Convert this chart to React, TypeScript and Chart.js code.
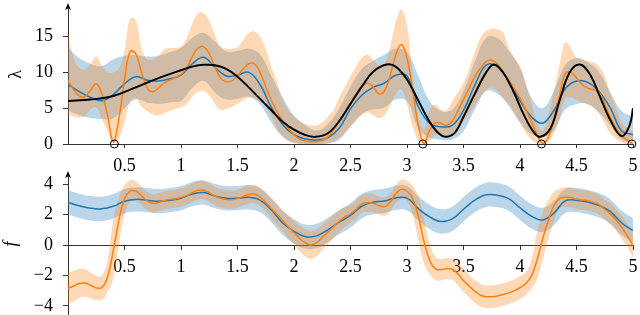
import React, { useEffect, useRef } from "react";
import { Chart, registerables } from "chart.js";
Chart.register(...registerables);

// ---------- data ----------
const xFine = [0,0.05,0.1,0.15,0.2,0.25,0.3,0.35,0.4,0.45,0.5,0.55,0.6,0.65,0.7,0.75,0.8,0.85,0.9,0.95,
  1,1.05,1.1,1.15,1.2,1.25,1.3,1.35,1.4,1.45,1.5,1.55,1.6,1.65,1.7,1.75,1.8,1.85,1.9,1.95,
  2,2.05,2.1,2.15,2.2,2.25,2.3,2.35,2.4,2.45,2.5,2.55,2.6,2.65,2.7,2.75,2.8,2.85,2.9,2.95,
  3,3.05,3.1,3.15,3.2,3.25,3.3,3.35,3.4,3.45,3.5,3.55,3.6,3.65,3.7,3.75,3.8,3.85,3.9,3.95,
  4,4.05,4.1,4.15,4.2,4.25,4.3,4.35,4.4,4.45,4.5,4.55,4.6,4.65,4.7,4.75,4.8,4.85,4.9,4.95,5];
const xCoarse = [0,0.1,0.2,0.3,0.4,0.5,0.6,0.7,0.8,0.9,1,1.1,1.2,1.3,1.4,1.5,1.6,1.7,1.8,1.9,
  2,2.1,2.2,2.3,2.4,2.5,2.6,2.7,2.8,2.9,3,3.1,3.2,3.3,3.4,3.5,3.6,3.7,3.8,3.9,
  4,4.1,4.2,4.3,4.4,4.5,4.6,4.7,4.8,4.9,5];

// top panel (lambda)
const lamOrange = [8.8,7.6,6.7,6.6,7.5,8.4,7.0,4.0,0.3,3.5,
  9.0,12.9,12.6,10.0,7.8,7.3,7.8,8.5,8.9,9.3,
  9.7,10.6,12.2,13.4,13.6,12.6,10.8,9.2,8.7,8.8,
  9.5,10.5,11.2,11.2,10.0,8.0,6.1,4.5,3.2,2.2,
  1.3,0.7,0.4,0.3,0.35,0.5,1.0,2.0,3.2,4.4,
  5.8,7.0,8.1,8.5,8.0,7.0,7.4,9.5,12.4,13.9,
  12.0,7.6,2.6,0.1,1.9,3.0,2.9,2.6,3.2,4.6,
  6.2,7.8,9.4,10.6,11.5,11.7,11.2,10.0,8.9,7.7,
  6.4,4.8,3.2,1.4,0.1,0.9,3.5,6.8,9.8,10.0,
  9.2,8.3,7.8,7.6,7.2,5.5,3.7,2.2,1.2,0.5,0.0];
const lamOrangeUpper = [15.5,12.0,10.6,10.4,11.2,12.2,11.0,10.0,10.0,10.5,
  13.0,17.5,17.3,13.5,11.8,11.8,12.3,13.2,13.4,13.4,
  13.6,14.8,16.8,18.2,18.3,17.2,15.2,13.6,13.3,13.3,
  13.5,14.5,15.5,15.7,15.0,13.2,10.8,8.6,6.3,4.7,
  3.8,3.2,2.8,2.6,2.6,3.0,3.8,4.8,6.5,8.0,
  9.5,10.8,12.0,12.5,11.8,11.0,11.3,13.5,17.0,18.8,
  16.5,9.5,4.0,2.0,4.7,5.5,4.8,4.7,6.0,7.2,
  8.5,10.5,12.8,14.8,15.8,16.1,16.0,15.6,13.5,12.0,
  10.8,8.5,5.8,3.0,1.8,4.0,7.4,11.0,14.2,13.4,
  12.0,11.8,11.6,11.4,10.8,9.5,7.0,5.0,3.0,2.2,1.8];
const lamOrangeLower = [4.2,3.8,3.7,3.9,4.8,5.1,3.5,1.8,0.1,0.8,
  3.0,6.0,6.4,5.2,4.6,4.1,4.0,4.3,4.6,4.9,
  5.1,5.6,6.6,7.3,7.4,6.8,5.6,4.8,4.9,5.2,
  5.6,6.1,6.5,6.4,5.9,5.2,3.8,2.2,1.1,0.4,
  0.1,0,0,0,0,0,0.1,0.4,0.9,1.5,
  2.4,3.2,4.0,4.4,4.0,3.6,4.0,5.3,7.0,7.6,
  5.5,2.5,0.4,0,0.5,1.2,1.3,1.1,1.5,2.2,
  3.2,4.2,5.4,6.5,7.5,7.9,7.4,6.5,5.6,4.4,
  3.0,1.6,0.6,0.1,0,0.3,1.5,3.5,6.3,6.5,
  6.2,5.8,5.5,5.1,4.3,2.8,1.5,0.7,0.2,0,0];
const lamBlue = [8.3,7.3,6.5,6.05,6.9,8.4,9.4,8.9,8.8,9.1,
  9.6,11.2,12.1,10.7,9.5,9.6,10.0,8.3,5.1,2.7,
  1.3,0.7,0.55,0.9,2.2,4.9,6.8,7.9,8.5,9.6,
  9.5,5.2,2.9,2.4,2.6,4.7,8.2,11.0,10.8,8.8,
  6.05,3.8,2.9,4.7,7.7,8.8,8.6,7.3,5.0,1.8,1.3];
const lamBlueUpper = [13.4,12.0,11.2,10.9,11.8,12.3,12.4,12.2,12.3,12.8,
  13.4,14.8,15.5,14.3,12.9,13.0,13.3,12.5,9.5,6.5,
  4.0,2.6,1.9,2.8,5.0,8.0,10.5,11.6,12.5,13.3,
  12.8,9.5,6.0,4.6,4.8,7.4,11.5,14.8,14.8,13.0,
  10.6,6.5,5.0,7.4,11.0,12.0,11.4,10.0,7.2,4.6,3.8];
const lamBlueLower = [4.7,4.0,3.6,3.5,3.6,5.0,6.2,5.8,5.6,5.8,
  6.0,7.8,8.8,7.2,6.2,6.3,6.6,5.5,3.0,1.0,
  0.2,0,0,0.1,0.6,2.5,4.2,4.8,5.1,6.2,
  6.0,2.2,0.9,0.6,0.6,1.8,4.8,7.4,7.0,5.3,
  3.0,1.4,1.0,1.9,4.8,5.6,5.6,4.4,2.6,0.6,0.3];
const lamTrueX = [0,0.2,0.4,0.6,0.8,1.0,1.1,1.2,1.3,1.4,1.5,1.6,1.7,1.8,1.9,2.0,2.1,2.19,2.3,2.4,
  2.5,2.6,2.7,2.82,2.9,3.0,3.1,3.2,3.28,3.35,3.43,3.5,3.6,3.7,3.77,3.85,3.94,4.03,4.12,4.18,
  4.27,4.35,4.44,4.53,4.62,4.71,4.8,4.9,4.97,5.0];
const lamTrue = [6.0,6.2,6.7,7.9,9.2,10.3,10.8,11.05,11.0,10.5,9.4,7.9,6.3,4.7,3.1,2.0,1.25,1.0,1.5,3.2,
  5.6,8.0,10.1,11.1,10.8,9.0,6.05,3.1,1.5,1.0,1.7,3.8,7.0,10.0,11.1,10.0,7.4,4.2,1.7,1.0,
  2.2,6.05,10.0,11.1,9.7,6.5,3.3,1.1,2.6,5.0];
const zeroX = [0.41, 3.14, 4.19, 4.99];
const zeroY = [0, 0, 0, 0];

// bottom panel (f)
const fOrange = [-2.85,-2.7,-2.53,-2.5,-2.65,-2.82,-2.8,-2.1,-0.4,1.6,
  3.05,3.55,3.55,3.25,2.9,2.74,2.8,2.93,3.0,3.05,
  3.12,3.25,3.45,3.6,3.6,3.45,3.22,3.08,3.0,2.98,
  3.05,3.2,3.33,3.35,3.15,2.8,2.4,2.0,1.6,1.2,
  0.8,0.44,0.15,0.0,0.15,0.5,0.85,1.2,1.55,1.85,
  2.05,2.35,2.7,2.78,2.75,2.6,2.52,2.8,3.35,3.66,
  3.55,3.05,1.9,0.25,-1.0,-1.55,-1.62,-1.55,-1.6,-1.9,
  -2.35,-2.7,-3.05,-3.3,-3.4,-3.4,-3.35,-3.25,-3.15,-3.0,
  -2.8,-2.55,-2.05,-1.0,0.4,1.6,2.6,3.05,3.15,3.12,
  3.02,2.96,2.92,2.8,2.65,2.35,2.05,1.65,1.15,0.6,-0.05];
const fOrangeUpper = [-1.8,-1.7,-1.58,-1.6,-1.8,-2.02,-2.0,-1.0,1.6,3.1,
  3.95,4.25,4.2,3.85,3.5,3.34,3.4,3.53,3.6,3.65,
  3.72,3.85,4.05,4.2,4.2,4.05,3.82,3.68,3.6,3.58,
  3.65,3.8,3.93,3.95,3.75,3.4,3.05,2.7,2.3,1.95,
  1.6,1.29,1.05,0.9,1.05,1.35,1.65,1.95,2.25,2.5,
  2.65,2.95,3.3,3.38,3.35,3.2,3.12,3.4,3.95,4.31,
  4.2,3.9,3.2,1.7,0.1,-0.75,-0.92,-0.85,-0.9,-1.15,
  -1.6,-1.95,-2.3,-2.55,-2.65,-2.65,-2.6,-2.5,-2.4,-2.25,
  -2.05,-1.8,-1.0,0.8,2.1,2.95,3.5,3.7,3.8,3.77,
  3.67,3.61,3.57,3.45,3.3,3.0,2.75,2.35,1.9,1.35,0.7];
const fOrangeLower = [-3.9,-3.7,-3.48,-3.4,-3.5,-3.62,-3.6,-3.1,-2.2,0.0,
  2.0,2.85,2.9,2.65,2.3,2.14,2.2,2.33,2.4,2.45,
  2.52,2.65,2.85,3.0,3.0,2.85,2.62,2.48,2.4,2.38,
  2.45,2.6,2.73,2.75,2.55,2.2,1.75,1.3,0.9,0.45,
  0.0,-0.41,-0.75,-0.9,-0.75,-0.35,0.05,0.45,0.85,1.2,
  1.45,1.75,2.1,2.18,2.15,2.0,1.92,2.2,2.75,3.01,
  2.9,2.0,0.3,-1.2,-1.9,-2.3,-2.32,-2.25,-2.3,-2.65,
  -3.1,-3.45,-3.8,-4.05,-4.15,-4.15,-4.1,-4.0,-3.9,-3.75,
  -3.55,-3.3,-2.9,-2.3,-1.0,0.4,1.6,2.4,2.5,2.47,
  2.37,2.31,2.27,2.15,2.0,1.7,1.35,0.95,0.4,-0.15,-0.8];
const fBlue = [2.8,2.58,2.42,2.38,2.55,2.88,3.0,2.95,2.88,2.95,
  3.08,3.35,3.45,3.22,3.08,3.08,3.14,2.95,2.3,1.45,
  0.9,0.55,0.6,1.0,1.5,1.95,2.55,2.82,2.9,3.1,
  3.08,2.4,1.85,1.55,1.72,2.35,2.95,3.3,3.28,3.05,
  2.45,1.9,1.65,2.1,2.9,2.95,2.82,2.6,2.2,1.45,0.95];
const fBlueUpper = [3.6,3.38,3.22,3.18,3.35,3.68,3.8,3.75,3.68,3.75,
  3.88,4.15,4.25,4.02,3.88,3.88,3.94,3.75,3.1,2.25,
  1.7,1.35,1.4,1.8,2.3,2.75,3.35,3.62,3.7,3.9,
  3.88,3.2,2.65,2.35,2.52,3.15,3.75,4.1,4.08,3.85,
  3.25,2.7,2.45,2.9,3.7,3.75,3.62,3.4,3.0,2.25,1.75];
const fBlueLower = [2.0,1.78,1.62,1.58,1.75,2.08,2.2,2.15,2.08,2.15,
  2.28,2.55,2.65,2.42,2.28,2.28,2.34,2.15,1.5,0.65,
  0.1,-0.25,-0.2,0.2,0.7,1.15,1.75,2.02,2.1,2.3,
  2.28,1.6,1.05,0.75,0.92,1.55,2.15,2.5,2.48,2.25,
  1.65,1.1,0.85,1.3,2.1,2.15,2.02,1.8,1.4,0.65,0.15];

const xTicks = [0.5, 1, 1.5, 2, 2.5, 3, 3.5, 4, 4.5, 5];
const lamTicks = [0, 5, 10, 15];
const fTicks = [-4, -2, 0, 2, 4];

// ---------- styles ----------
const FONT = "'Liberation Serif', 'Times New Roman', serif";
const BLUE = "#1f77b4";
const ORANGE = "#ff7f0e";
const BLUE_FILL = "rgba(31,119,180,0.3)";
const ORANGE_FILL = "rgba(255,127,14,0.3)";
const AXIS = "#333";

const pts = (xs: number[], ys: number[]) => xs.map((x, i) => ({ x, y: ys[i] }));

function band(xs: number[], lo: number[], hi: number[], color: string, order: number) {
  return [
    { data: pts(xs, lo), borderColor: "transparent", borderWidth: 0, pointRadius: 0, fill: false, tension: 0.4, order },
    { data: pts(xs, hi), borderColor: "transparent", borderWidth: 0, pointRadius: 0, fill: "-1", backgroundColor: color, tension: 0.4, order },
  ];
}
function line(xs: number[], ys: number[], color: string, width: number, order: number) {
  return { data: pts(xs, ys), borderColor: color, borderWidth: width, pointRadius: 0, fill: false, tension: 0.4, order };
}
const setTicks = (values: number[]) => (scale: any) => {
  scale.ticks = values.map((v) => ({ value: v }));
};
const arrowPlugin = {
  id: "yarrow",
  afterDraw(chart: any) {
    const { ctx, chartArea } = chart;
    const x = chartArea.left;
    const y = chartArea.top;
    ctx.save();
    ctx.fillStyle = "#111";
    ctx.beginPath();
    ctx.moveTo(x, y - 2);
    ctx.lineTo(x - 3, y + 5);
    ctx.lineTo(x, y + 3.5);
    ctx.lineTo(x + 3, y + 5);
    ctx.closePath();
    ctx.fill();
    ctx.restore();
  },
};

const tickFont = { family: FONT, size: 18 };

function xScale(extra: any) {
  return {
    type: "linear",
    min: 0,
    max: 5,
    z: 1,
    afterBuildTicks: setTicks(xTicks),
    grid: { drawOnChartArea: false, tickLength: 4, color: AXIS, lineWidth: 1 },
    border: { color: AXIS, width: 1 },
    ticks: { font: tickFont, color: "#000", padding: 7, maxRotation: 0, autoSkip: false, callback: (v: any) => String(v) },
    ...extra,
  };
}
function yScale(min: number, max: number, ticks: number[], title: any, titlePad: number) {
  return {
    type: "linear",
    min,
    max,
    z: 1,
    afterBuildTicks: setTicks(ticks),
    afterFit: (s: any) => { s.width = 68; s.paddingTop = 0; s.paddingBottom = 0; },
    grid: { drawOnChartArea: false, tickLength: 5, color: AXIS, lineWidth: 1 },
    border: { color: AXIS, width: 1 },
    ticks: {
      font: tickFont, color: "#000", padding: 10, autoSkip: false,
      callback: (v: any) => (v < 0 ? "\u2212" + Math.abs(v) : String(v)),
    },
    title: { display: true, text: title.text, font: { family: FONT, size: 18, style: title.style }, color: "#000", padding: { top: titlePad, bottom: 0 } },
  };
}

const baseOpts = {
  responsive: false,
  animation: false,
  devicePixelRatio: 1,
  events: [],
  plugins: { legend: { display: false }, tooltip: { enabled: false } },
};

export default function App() {
  const topRef = useRef<HTMLCanvasElement>(null);
  const botRef = useRef<HTMLCanvasElement>(null);

  useEffect(() => {
    const top = new Chart(topRef.current as HTMLCanvasElement, {
      type: "line",
      data: {
        datasets: [
          ...band(xCoarse, lamBlueLower, lamBlueUpper, BLUE_FILL, 10),
          ...band(xFine, lamOrangeLower, lamOrangeUpper, ORANGE_FILL, 9),
          line(xCoarse, lamBlue, BLUE, 1.5, 5),
          line(xFine, lamOrange, ORANGE, 1.5, 4),
          line(lamTrueX, lamTrue, "#000", 2, 3),
          {
            data: pts(zeroX, zeroY), showLine: false, pointRadius: 4, pointStyle: "circle",
            pointBorderColor: "#000", pointBackgroundColor: "transparent", pointBorderWidth: 1, order: 1, clip: false,
          },
        ] as any,
      },
      options: {
        ...baseOpts,
        layout: { padding: { top: 3, right: 7, left: 0, bottom: 0 } },
        scales: {
          x: xScale({ afterFit: (s: any) => { s.height = 36; s.paddingLeft = 0; s.paddingRight = 0; } }),
          y: yScale(0, 19.4, lamTicks, { text: "λ", style: "normal" }, 5),
        },
      } as any,
      plugins: [arrowPlugin],
    });

    const bot = new Chart(botRef.current as HTMLCanvasElement, {
      type: "line",
      data: {
        datasets: [
          ...band(xCoarse, fBlueLower, fBlueUpper, BLUE_FILL, 10),
          ...band(xFine, fOrangeLower, fOrangeUpper, ORANGE_FILL, 9),
          line(xCoarse, fBlue, BLUE, 1.5, 5),
          line(xFine, fOrange, ORANGE, 1.5, 4),
        ] as any,
      },
      options: {
        ...baseOpts,
        layout: { padding: { top: 13, right: 7, left: 0, bottom: 0 } },
        scales: {
          x: xScale({ position: { y: 0 }, afterFit: (s: any) => { s.height = 0; s.paddingLeft = 0; s.paddingRight = 0; } }),
          y: yScale(-4.605, 4.737, fTicks, { text: "f", style: "italic" }, 0),
        },
      } as any,
      plugins: [arrowPlugin],
    });

    return () => { top.destroy(); bot.destroy(); };
  }, []);

  return (
    <div style={{ position: "absolute", left: 0, top: 0, width: 640, height: 315, background: "#fff", overflow: "hidden" }}>
      <canvas ref={topRef} width={640} height={180} style={{ position: "absolute", left: 0, top: 0 }} />
      <canvas ref={botRef} width={640} height={155} style={{ position: "absolute", left: 0, top: 160 }} />
    </div>
  );
}
